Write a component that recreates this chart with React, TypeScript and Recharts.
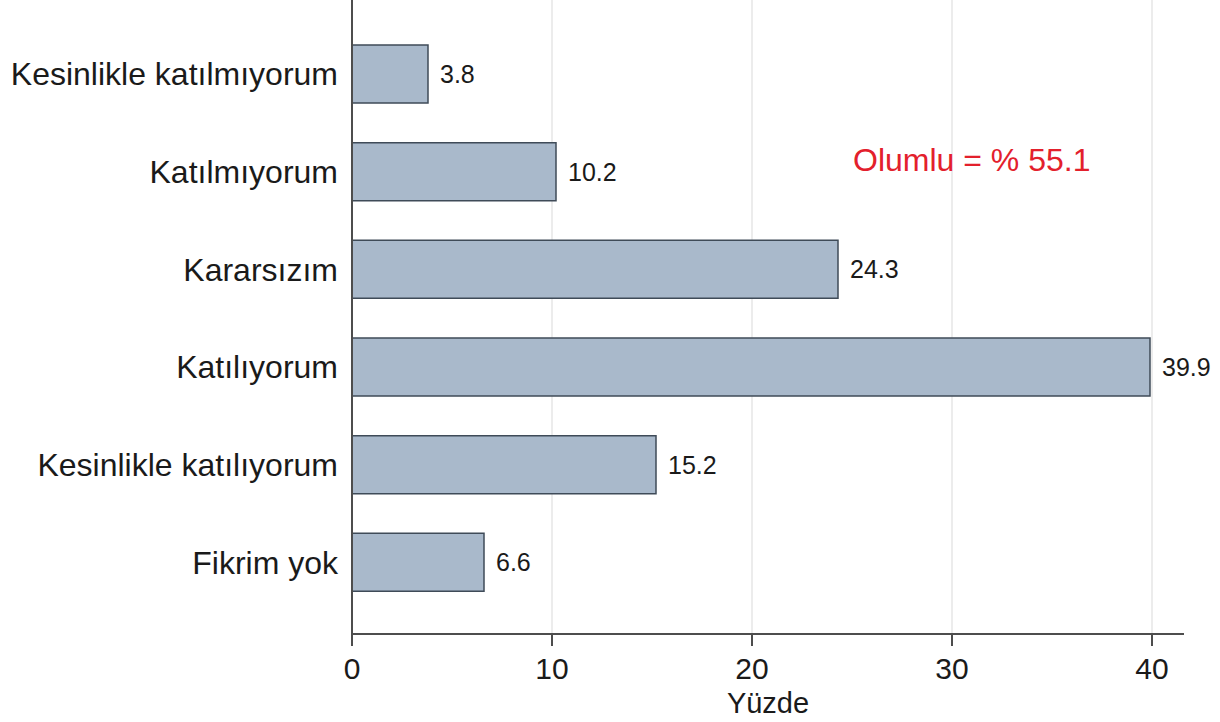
import { BarChart, Bar, XAxis, YAxis, CartesianGrid, LabelList } from "recharts";

const categories = [
  "Kesinlikle katılmıyorum",
  "Katılmıyorum",
  "Kararsızım",
  "Katılıyorum",
  "Kesinlikle katılıyorum",
  "Fikrim yok",
];
const percents = [3.8, 10.2, 24.3, 39.9, 15.2, 6.6];
const xTicks = [0, 10, 20, 30, 40];
const gridLines = [10, 20, 30, 40];
const xMax = 41.6;
const note = "Olumlu = % 55.1";

const data = categories.map((name, i) => ({ name, value: percents[i] }));

const font = "'Liberation Sans', Arial, sans-serif";

// grid only at the ticks, not at the end of the axis
const gridX = ({ xAxis, offset }: any) => {
  const s = xAxis && xAxis.scale;
  if (typeof s === "function") return gridLines.map((v) => s(v));
  if (s && typeof s.map === "function") return gridLines.map((v) => s.map(v));
  return gridLines.map((v) => offset.left + (v / xMax) * offset.width);
};

const App = () => {
  return (
    <div style={{ position: "absolute", left: 0, top: 0, width: 1220, height: 722, background: "#fff", fontFamily: font }}>
      <BarChart
        width={1220}
        height={722}
        data={data}
        layout="vertical"
        margin={{ top: 0, right: 36, bottom: 0, left: 0 }}
      >
        <CartesianGrid horizontal={false} stroke="#e6e6e6" strokeWidth={1.5} verticalCoordinatesGenerator={gridX} />
        <XAxis
          type="number"
          domain={[0, xMax]}
          ticks={xTicks}
          height={88}
          stroke="#4d4d4d"
          strokeWidth={2}
          tickSize={12}
          tickMargin={12}
          tick={{ fill: "#1a1a1a", fontSize: 30, fontFamily: font }}
          label={{ value: "Yüzde", position: "insideBottom", offset: 9, fill: "#1a1a1a", fontSize: 29, fontFamily: font }}
        />
        <YAxis
          type="category"
          dataKey="name"
          width={352}
          stroke="#4d4d4d"
          strokeWidth={2}
          tickSize={0}
          tickMargin={14}
          padding={{ top: 25, bottom: 23 }}
          tick={{ fill: "#1a1a1a", fontSize: 32, fontFamily: font }}
        />
        <Bar dataKey="value" fill="#a9b9cb" stroke="#3f4b58" strokeWidth={1.5} barSize={58} isAnimationActive={false}>
          <LabelList dataKey="value" position="right" offset={12} fill="#1a1a1a" fontSize={25} fontFamily={font} />
        </Bar>
      </BarChart>
      <div
        style={{
          position: "absolute",
          left: 853,
          top: 143,
          fontSize: 32,
          lineHeight: "34px",
          color: "#e3202c",
          whiteSpace: "nowrap",
        }}
      >
        {note}
      </div>
    </div>
  );
};

export default App;
